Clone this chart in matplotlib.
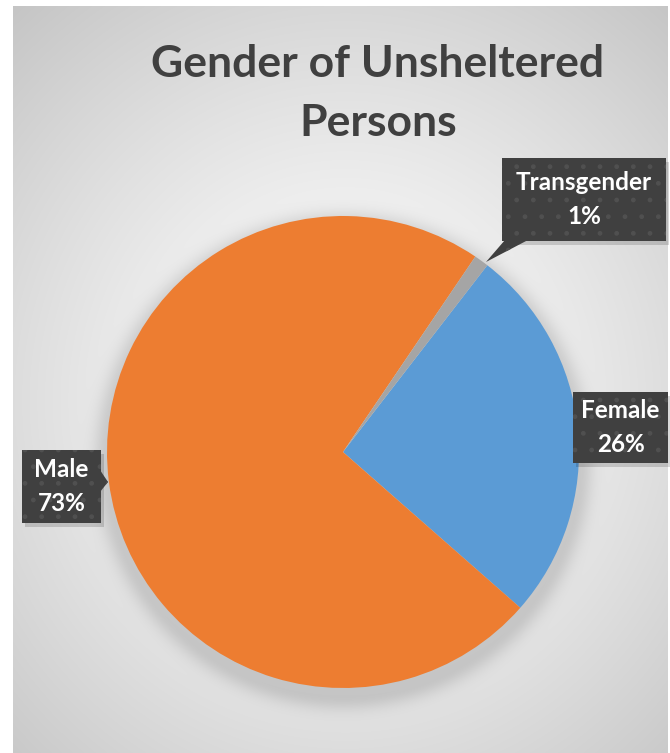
import numpy as np
import matplotlib
matplotlib.use("Agg")
import matplotlib.pyplot as plt
from matplotlib.patches import Rectangle, Polygon

# data
labels = ["Female", "Male", "Transgender"]
values = [26, 73, 1]
colors = ["#5B9BD5", "#ED7D31", "#A5A5A5"]
pct_text = ["26%", "73%", "1%"]

W, H = 670, 753
plt.rcParams['font.family'] = ['Lato', 'DejaVu Sans']
plt.rcParams['hatch.linewidth'] = 1.0

fig = plt.figure(figsize=(W / 100, H / 100), dpi=100)
ax = fig.add_axes([0, 0, 1, 1])

# background: radial gradient with soft pie shadow (image pixel coords)
L, R, T = 13, 668, 6
yy, xx = np.mgrid[T:H, L:R]
d = np.hypot(xx - 345, (yy - 400) * 0.95) / 520
bg = 1.0 - 0.24 * np.clip(d, 0, 1) ** 1.3
cx, cy, r = 343, 452, 236
dd = np.hypot(xx - cx, yy - (cy + 8)) - r
shadow = np.exp(-np.clip(dd, 0, None) ** 2 / (2 * 10 ** 2)) * 0.12
bg = bg - shadow
img = np.dstack([bg, bg, bg])
ax.imshow(img, extent=(L, R, 0, H - T), origin='upper', zorder=0,
          interpolation='bilinear')

# pie (convert image y to y-up)
ax.pie(values, colors=colors, startangle=52.3, counterclock=False,
       center=(cx, H - cy), radius=r, frame=True,
       wedgeprops=dict(linewidth=0))
ax.set_xlim(0, W)
ax.set_ylim(0, H)
ax.axis('off')

# title
ax.text(378, H - 64, "Gender of Unsheltered", ha='center', va='center',
        fontsize=32, fontweight='bold', color='#404040')
ax.text(378, H - 123, "Persons", ha='center', va='center',
        fontsize=32, fontweight='bold', color='#404040')


def callout(x0, y0, x1, y1, ptr, lines):
    # x/y in image pixels
    ax.add_patch(Rectangle((x0 + 3, H - y1 - 4), x1 - x0, y1 - y0,
                           facecolor='black', alpha=0.15, lw=0, zorder=3))
    shapes = [Rectangle((x0, H - y1), x1 - x0, y1 - y0)]
    if ptr:
        shapes.append(Polygon([(px, H - py) for px, py in ptr], closed=True))
    for p in shapes:
        p.set_facecolor('#404040')
        p.set_edgecolor('none')
        p.set_linewidth(0)
        p.set_zorder(4)
        ax.add_patch(p)
        if isinstance(p, Rectangle):
            h = Rectangle(p.get_xy(), p.get_width(), p.get_height())
        else:
            h = Polygon(p.get_xy(), closed=True)
        h.set_facecolor('none')
        h.set_edgecolor('#505050')
        h.set_linewidth(0)
        h.set_hatch('.')
        h.set_zorder(5)
        ax.add_patch(h)
    xm = (x0 + x1) / 2
    ym = (y0 + y1) / 2
    ax.text(xm, H - ym, "\n".join(lines), ha='center', va='center',
            fontsize=17.5, fontweight='bold', color='white',
            linespacing=1.55, zorder=6)


callout(502, 158, 666, 241, [(505, 240), (528, 240), (486, 262)],
        [labels[2], pct_text[2]])
callout(573, 392, 668, 463, None, [labels[0], pct_text[0]])
callout(22, 450, 101, 523, [(100, 470), (100, 492), (108, 482)],
        [labels[1], pct_text[1]])

fig.savefig("out.png", dpi=100, facecolor='white')
